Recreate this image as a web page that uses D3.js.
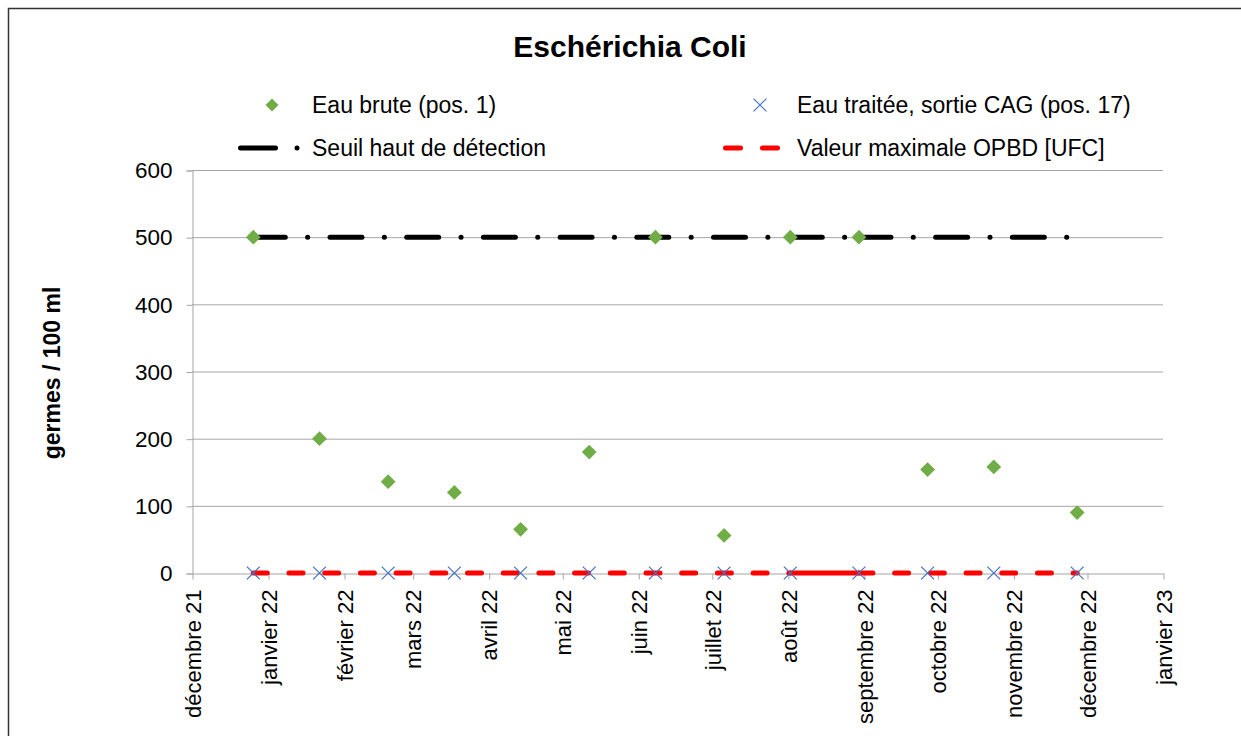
<!DOCTYPE html>
<html>
<head>
<meta charset="utf-8">
<script src="https://cdn.jsdelivr.net/npm/d3@7"></script>
<style>
  body { margin: 0; background: #fff; }
  text { font-family: "Liberation Sans", Arial, sans-serif; fill: #000; }
</style>
</head>
<body>
<div id="chart"></div>
<script>
// sampling dates and values
const sampleDates = ["2021-12-26", "2022-01-22", "2022-02-19", "2022-03-18", "2022-04-14", "2022-05-12",
    "2022-06-08", "2022-07-06", "2022-08-02", "2022-08-30", "2022-09-27", "2022-10-24", "2022-11-27"];
const eauBrute = [500, 200, 136, 120, 65, 180, 500, 56, 500, 500, 154, 158, 90];
const eauTraitee = [0, 0, 0, 0, 0, 0, 0, 0, 0, 0, 0, 0, 0];

// limit lines (vertices)
const limitDates = ["2021-12-26", "2022-08-02", "2022-08-30", "2022-11-27"];
const seuilValues = [500, 500, 500, 500];
const opbdValues = [0, 0, 0, 0];

const yTicks = [0, 100, 200, 300, 400, 500, 600];
const monthNames = ["janvier", "février", "mars", "avril", "mai", "juin", "juillet",
    "août", "septembre", "octobre", "novembre", "décembre"];
const legendLabels = ["Eau brute (pos. 1)", "Eau traitée, sortie CAG (pos. 17)",
    "Seuil haut de détection", "Valeur maximale OPBD [UFC]"];

const width = 1241;
const height = 736;
const parse = d3.timeParse("%Y-%m-%d");

const svg = d3.select("#chart").append("svg")
    .attr("width", width)
    .attr("height", height);

// outer frame
svg.append("rect")
    .attr("x", 8.5).attr("y", 8.5)
    .attr("width", 1300).attr("height", 800)
    .attr("fill", "none")
    .attr("stroke", "#333")
    .attr("stroke-width", 1.5);

const xScale = d3.scaleTime()
    .domain([new Date(2021, 11, 1), new Date(2023, 0, 1)])
    .range([192, 1163]);
const yScale = d3.scaleLinear()
    .domain([0, 600])
    .range([573, 170]);

// gridlines
svg.append("g").selectAll("line")
    .data(yTicks.filter(d => d > 0))
    .join("line")
    .attr("x1", 192).attr("x2", 1163)
    .attr("y1", d => yScale(d) + 0.5).attr("y2", d => yScale(d) + 0.5)
    .attr("stroke", "#a6a6a6");

// y axis
const yAxis = svg.append("g")
    .attr("transform", "translate(192.5,0.5)")
    .call(d3.axisLeft(yScale).tickValues(yTicks).tickSize(6).tickPadding(14));
yAxis.select(".domain").attr("stroke", "#a6a6a6");
yAxis.selectAll(".tick line").attr("stroke", "#a6a6a6");
yAxis.selectAll(".tick text")
    .attr("font-size", "22.5px")
    .attr("font-family", "Liberation Sans, Arial, sans-serif")
    .attr("fill", "#000");

// x axis
const monthTicks = d3.timeMonth.range(new Date(2021, 11, 1), new Date(2023, 0, 2));
const xAxis = svg.append("g")
    .attr("transform", "translate(0.5,573.5)")
    .call(d3.axisBottom(xScale)
        .tickValues(monthTicks)
        .tickSize(6)
        .tickSizeOuter(0)
        .tickFormat(d => monthNames[d.getMonth()] + " " + String(d.getFullYear()).slice(2)));
xAxis.select(".domain").attr("stroke", "#a6a6a6");
xAxis.selectAll(".tick line").attr("stroke", "#a6a6a6");
xAxis.selectAll(".tick text")
    .attr("font-size", "22px")
    .attr("font-family", "Liberation Sans, Arial, sans-serif")
    .attr("fill", "#000")
    .attr("text-anchor", "end")
    .attr("transform", "rotate(-90)")
    .attr("x", -16)
    .attr("y", 0)
    .attr("dy", "0.35em");

// limit lines, one path per segment so the dash pattern restarts at each vertex like Excel does
function segments(dates, values) {
    const pts = dates.map((d, i) => ({date: parse(d), value: values[i]}));
    return d3.pairs(pts);
}
const line = d3.line().x(d => xScale(d.date)).y(d => yScale(d.value));

svg.append("g").selectAll("path")
    .data(segments(limitDates, seuilValues))
    .join("path")
    .attr("d", line)
    .attr("fill", "none")
    .attr("stroke", "#000")
    .attr("stroke-width", 5)
    .attr("stroke-linecap", "round")
    .attr("stroke-dasharray", "32,22.3,0.1,22.3");

// OPBD: the August segment is drawn solid in the reference
const solidStart = parse("2022-08-02").getTime();
svg.append("g").selectAll("path")
    .data(segments(limitDates, opbdValues))
    .join("path")
    .attr("d", line)
    .attr("fill", "none")
    .attr("stroke", "#ff0000")
    .attr("stroke-width", 5)
    .attr("stroke-linecap", "round")
    .attr("stroke-dasharray", d => d[0].date.getTime() === solidStart ? null : "14,21.7");

// Eau traitée: X markers
const cross = d3.symbol().type(d3.symbolX).size(110);
svg.append("g").selectAll("path")
    .data(sampleDates.map((d, i) => ({date: parse(d), value: eauTraitee[i]})))
    .join("path")
    .attr("transform", d => `translate(${xScale(d.date)},${yScale(d.value)})`)
    .attr("d", cross)
    .attr("fill", "none")
    .attr("stroke", "#4472c4")
    .attr("stroke-width", 1.2);

// Eau brute: diamonds
const diamond = d3.symbol().type(d3.symbolSquare).size(110);
svg.append("g").selectAll("path")
    .data(sampleDates.map((d, i) => ({date: parse(d), value: eauBrute[i]})))
    .join("path")
    .attr("transform", d => `translate(${xScale(d.date)},${yScale(d.value)}) rotate(45)`)
    .attr("d", diamond)
    .attr("fill", "#70ad47");

// title
svg.append("text")
    .attr("x", 630).attr("y", 57)
    .attr("text-anchor", "middle")
    .attr("font-size", "30px")
    .attr("font-weight", "bold")
    .text("Eschérichia Coli");

// y label
svg.append("text")
    .attr("transform", "translate(52,373) rotate(-90)")
    .attr("text-anchor", "middle")
    .attr("dy", "0.35em")
    .attr("font-size", "23px")
    .attr("font-weight", "bold")
    .text("germes / 100 ml");

// legend
const legend = svg.append("g").attr("font-size", "23px");
legend.append("path")
    .attr("transform", "translate(272,105) rotate(45)")
    .attr("d", d3.symbol().type(d3.symbolSquare).size(85))
    .attr("fill", "#70ad47");
legend.append("path")
    .attr("transform", "translate(760,105)")
    .attr("d", d3.symbol().type(d3.symbolX).size(110))
    .attr("fill", "none")
    .attr("stroke", "#4472c4")
    .attr("stroke-width", 1.2);
legend.append("line")
    .attr("x1", 240.5).attr("x2", 275.5).attr("y1", 148).attr("y2", 148)
    .attr("stroke", "#000").attr("stroke-width", 5)
    .attr("stroke-linecap", "round");
legend.append("circle")
    .attr("cx", 297).attr("cy", 148).attr("r", 2.5)
    .attr("fill", "#000");
legend.append("line")
    .attr("x1", 725.5).attr("x2", 777.5).attr("y1", 148).attr("y2", 148)
    .attr("stroke", "#ff0000").attr("stroke-width", 5)
    .attr("stroke-linecap", "round")
    .attr("stroke-dasharray", "15,22");

const legendPos = [[312, 105], [797, 105], [312, 148], [797, 148]];
legend.selectAll("text")
    .data(legendLabels)
    .join("text")
    .attr("x", (d, i) => legendPos[i][0])
    .attr("y", (d, i) => legendPos[i][1])
    .attr("dy", "0.35em")
    .text(d => d);
</script>
</body>
</html>
